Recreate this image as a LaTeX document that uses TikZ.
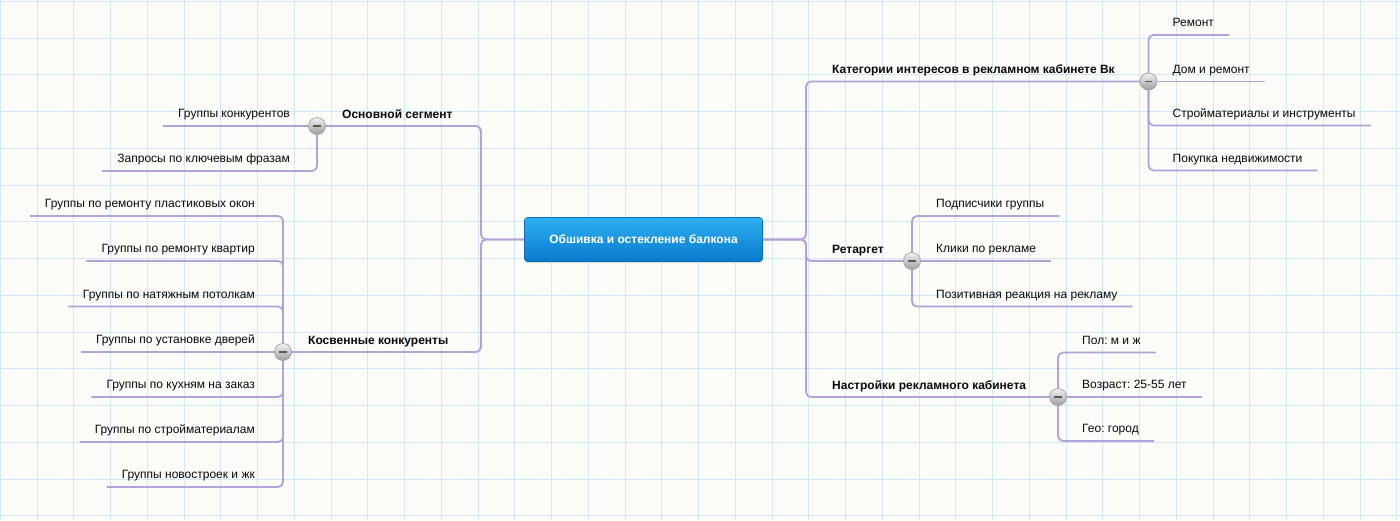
\documentclass[tikz,border=0pt]{standalone}
\usepackage{fontspec}
\setmainfont{Liberation Sans}
\usetikzlibrary{shadows}
\definecolor{bgc}{RGB}{251,251,248}
\definecolor{gridc}{RGB}{208,232,250}
\definecolor{linec}{RGB}{178,162,216}
\definecolor{topblue}{RGB}{46,176,240}
\definecolor{botblue}{RGB}{8,122,206}
\definecolor{bordblue}{RGB}{12,108,182}
\definecolor{txtc}{RGB}{10,10,10}
\pgfdeclarelayer{gridlayer}
\pgfdeclarelayer{lines}
\pgfsetlayers{gridlayer,lines,main}
\frenchspacing
\begin{document}
\begin{tikzpicture}[x=1pt,y=-1pt,
  txt/.style={font=\fontsize{12}{14}\selectfont, text=txtc},
  leaf/.style={txt, inner xsep=15pt, inner ysep=0pt, text depth=8pt},
  branch/.style={font=\fontsize{12}{14}\selectfont\bfseries, text=txtc, inner sep=0pt},
  conn/.style={draw=linec, line width=1.8pt, rounded corners=5pt},
  gridline/.style={draw=gridc, line width=0.9pt},
  toggle/.style={circle, minimum size=17pt, inner sep=0pt, draw=black!40, line width=0.6pt,
    top color=black!5, bottom color=black!38,
    path picture={\draw[black!65, line width=1.6pt]
      ([xshift=-3.6pt]path picture bounding box.center) -- ([xshift=3.6pt]path picture bounding box.center);}},
  central/.style={rectangle, rounded corners=3pt, minimum width=238pt, minimum height=44pt,
    top color=topblue, bottom color=botblue, draw=bordblue, line width=0.6pt,
    text=white, font=\fontsize{12}{14}\selectfont\bfseries,
    drop shadow={shadow xshift=0pt, shadow yshift=-1.5pt, opacity=0.25}}
]
\useasboundingbox (0,0) rectangle (1400,520);
\begin{pgfonlayer}{gridlayer}
  \fill[bgc] (0,0) rectangle (1400,520);
  \foreach \i in {0,...,38} \draw[gridline] ({0.25+\i*36.75},0) -- ++(0,520);
  \foreach \j in {0,...,14} \draw[gridline] (0,{1.25+\j*36.75}) -- ++(1400,0);
\end{pgfonlayer}

% central node
\node[central] (main) at (643.5,239.5) {Обшивка и остекление балкона};
\coordinate (JL) at (481,239.5);
\coordinate (JR) at (806,239.5);

% ---------- left side ----------
\node[toggle] (osnC) at (317,126) {};
\node[toggle] (kosC) at (283,352) {};
\node[branch, anchor=base west] (osn) at (342,118) {Основной сегмент};
\node[branch, anchor=base west] (kos) at (308,344) {Косвенные конкуренты};

\node[leaf, anchor=south east] (o1) at (305,126) {Группы конкурентов};
\node[leaf, anchor=south east] (o2) at (305,171) {Запросы по ключевым фразам};

\node[leaf, anchor=south east] (k1) at (270,216) {Группы по ремонту пластиковых окон};
\node[leaf, anchor=south east] (k2) at (270,261) {Группы по ремонту квартир};
\node[leaf, anchor=south east] (k3) at (270,306.5) {Группы по натяжным потолкам};
\node[leaf, anchor=south east] (k4) at (270,352) {Группы по установке дверей};
\node[leaf, anchor=south east] (k5) at (270,397) {Группы по кухням на заказ};
\node[leaf, anchor=south east] (k6) at (270,442) {Группы по стройматериалам};
\node[leaf, anchor=south east] (k7) at (270,487) {Группы новостроек и жк};

% ---------- right side ----------
\node[toggle] (catC) at (1148.5,81.5) {};
\node[toggle] (retC) at (912,261) {};
\node[toggle] (nasC) at (1058,397) {};
\node[branch, anchor=base west] (cat) at (832,73.5) {Категории интересов в рекламном кабинете Вк};
\node[branch, anchor=base west] (ret) at (832,253) {Ретаргет};
\node[branch, anchor=base west] (nas) at (832,389) {Настройки рекламного кабинета};

\node[leaf, anchor=south west] (c1) at (1157.5,35) {Ремонт};
\node[leaf, anchor=south west] (c2) at (1157.5,81.5) {Дом и ремонт};
\node[leaf, anchor=south west] (c3) at (1157.5,125.5) {Стройматериалы и инструменты};
\node[leaf, anchor=south west] (c4) at (1157.5,170.5) {Покупка недвижимости};

\node[leaf, anchor=south west] (r1) at (921,216) {Подписчики группы};
\node[leaf, anchor=south west] (r2) at (921,261) {Клики по рекламе};
\node[leaf, anchor=south west] (r3) at (921,306.5) {Позитивная реакция на рекламу};

\node[leaf, anchor=south west] (n1) at (1067,352.5) {Пол: м и ж};
\node[leaf, anchor=south west] (n2) at (1067,397) {Возраст: 25-55 лет};
\node[leaf, anchor=south west] (n3) at (1067,441) {Гео: город};

% ---------- connectors ----------
\begin{pgfonlayer}{lines}
  \draw[conn] (main.west) -- (JL) |- (osnC.center);
  \draw[conn] (main.west) -- (JL) |- (kosC.center);
  \draw[conn] (osnC.center) -- (o1.south west);
  \draw[conn] (osnC.center) |- (o2.south west);
  \foreach \k in {k1,k2,k3,k5,k6,k7} \draw[conn] (kosC.center) |- (\k.south west);
  \draw[conn] (kosC.center) -- (k4.south west);

  \draw[conn] (main.east) -- (JR) |- (catC.center);
  \draw[conn] (main.east) -- (JR) |- (retC.center);
  \draw[conn] (main.east) -- (JR) |- (nasC.center);
  \foreach \c in {c1,c3,c4} \draw[conn] (catC.center) |- (\c.south east);
  \draw[conn] (catC.center) -- (c2.south east);
  \foreach \r in {r1,r3} \draw[conn] (retC.center) |- (\r.south east);
  \draw[conn] (retC.center) -- (r2.south east);
  \foreach \n in {n1,n3} \draw[conn] (nasC.center) |- (\n.south east);
  \draw[conn] (nasC.center) -- (n2.south east);
\end{pgfonlayer}
\end{tikzpicture}
\end{document}
